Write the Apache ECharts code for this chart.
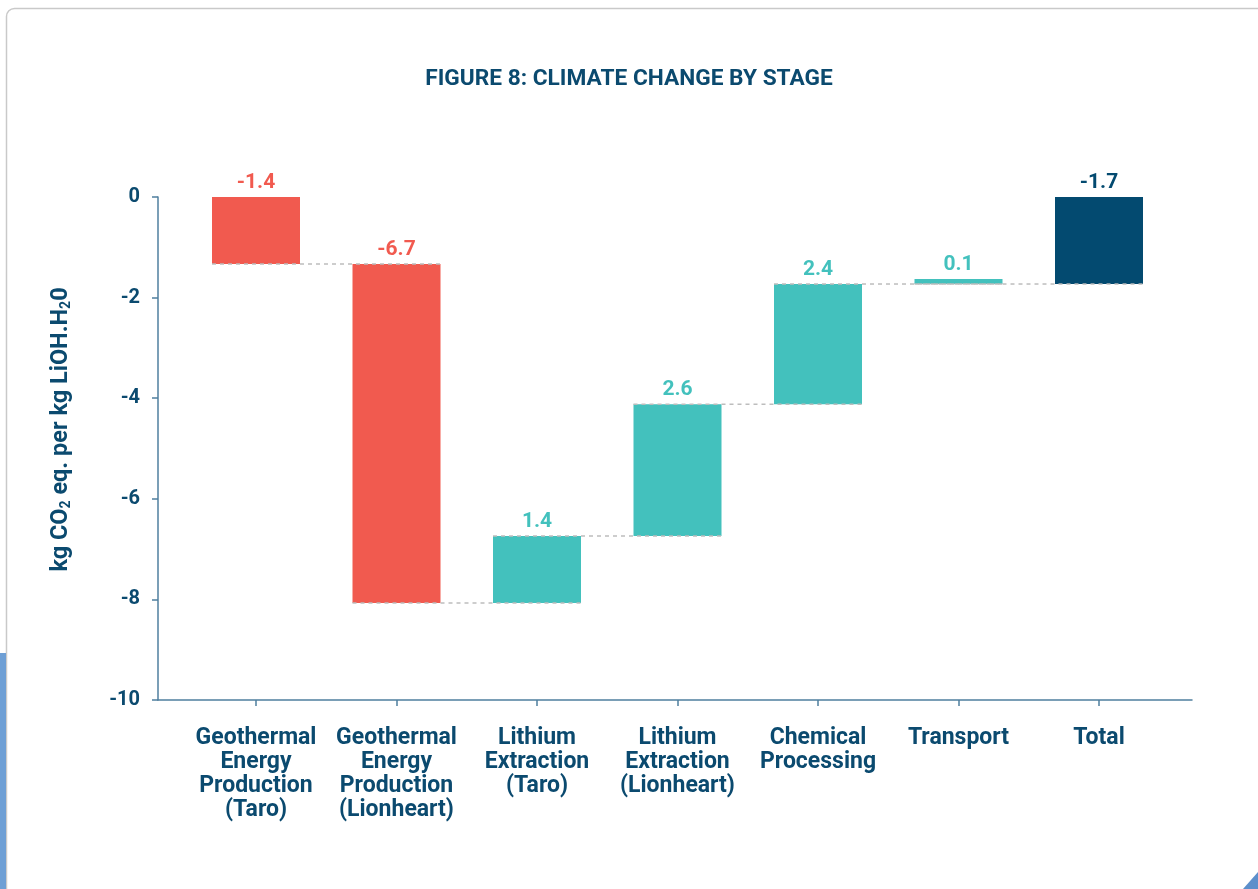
<!DOCTYPE html>
<html>
<head>
<meta charset="utf-8">
<script src="https://cdn.jsdelivr.net/npm/echarts@6/dist/echarts.min.js"></script>
<style>
html,body{margin:0;padding:0;background:#fff;}
#chart{width:1258px;height:889px;}
</style>
</head>
<body>
<div id="chart"></div>
<script>
const categories = [
  'Geothermal\nEnergy\nProduction\n(Taro)',
  'Geothermal\nEnergy\nProduction\n(Lionheart)',
  'Lithium\nExtraction\n(Taro)',
  'Lithium\nExtraction\n(Lionheart)',
  'Chemical\nProcessing',
  'Transport',
  'Total'
];
// bar heights (kg CO2 eq. per kg LiOH.H2O)
const stepValues = [-1.33, -6.74, 1.33, 2.62, 2.39, 0.10];
const totalValue = -1.73;
const valueLabels = ['-1.4', '-6.7', '1.4', '2.6', '2.4', '0.1', '-1.7'];
const yTicks = [0, -2, -4, -6, -8, -10];

const RED = '#F15A4F', TEAL = '#43C1BD', NAVY = '#034A70';
const TEXT = '#0B4A6F', AXIS = '#4F7F9F';
const FONT = 'Roboto, "Noto Sans", sans-serif';

// build waterfall ranges
const barData = [];
const connectorData = [];
let level = 0;
stepValues.forEach((v, i) => {
  const start = level, end = level + v;
  barData.push([i, start, end, v < 0 ? 0 : 1]);
  level = end;
});
barData.push([stepValues.length, 0, totalValue, 2]);
// connector level = base of the next bar
for (let i = 0; i < barData.length - 1; i++) {
  const next = barData[i + 1];
  const base = next[3] === 2 ? next[2] : next[1];
  connectorData.push([i, base]);
}
const colorsByKind = [RED, TEAL, NAVY];
const BAR_W = 88;

const chart = echarts.init(document.getElementById('chart'), null, {renderer: 'canvas'});
chart.setOption({
  animation: false,
  backgroundColor: '#fff',
  title: {
    text: 'FIGURE 8: CLIMATE CHANGE BY STAGE',
    left: 'center', top: 63,
    textStyle: {color: TEXT, fontFamily: FONT, fontWeight: 'bold', fontSize: 22.7}
  },
  graphic: [
    {type: 'rect', z: -10, shape: {x: 6.5, y: 8.5, width: 1400, height: 1000, r: 8},
     style: {fill: 'none', stroke: '#c9c9c9', lineWidth: 1.5}},
    {type: 'rect', z: -9, shape: {x: 0, y: 653, width: 6, height: 240},
     style: {fill: '#6E9FD5'}},
    {type: 'polygon', z: -9, shape: {points: [[1258, 872], [1258, 889], [1243, 889]]},
     style: {fill: '#5C8FCB'}}
  ],
  grid: [
    {left: 185.75, right: 88.75, top: 197, bottom: 189},
    {left: 158, right: 66, top: 197, bottom: 189}
  ],
  xAxis: [
    {
      type: 'category', gridIndex: 0, data: categories,
      axisLine: {show: false, onZero: false},
      axisTick: {show: true, alignWithLabel: true, length: 6, lineStyle: {color: AXIS, width: 1.5}},
      axisLabel: {color: TEXT, fontFamily: FONT, fontWeight: 'bold', fontSize: 23, lineHeight: 24, margin: 26, interval: 0},
      splitLine: {show: false}
    },
    {
      type: 'value', gridIndex: 1, min: 0, max: 1,
      axisLine: {show: true, onZero: false, lineStyle: {color: AXIS, width: 1.5}},
      axisTick: {show: false}, axisLabel: {show: false}, splitLine: {show: false}
    }
  ],
  yAxis: [
    {type: 'value', gridIndex: 0, min: -10, max: 0, show: false},
    {
      type: 'value', gridIndex: 1, min: -10, max: 0, interval: 2,
      axisLine: {show: true, onZero: false, lineStyle: {color: AXIS, width: 1.5}},
      axisTick: {show: true, length: 6, lineStyle: {color: AXIS, width: 1.5}},
      axisLabel: {color: TEXT, fontFamily: FONT, fontWeight: 'bold', fontSize: 20, margin: 18,
        formatter: v => yTicks.includes(v) ? String(v) : ''},
      splitLine: {show: false},
      name: 'kg CO{sub|2} eq. per kg LiOH.H{sub|2}0',
      nameLocation: 'middle', nameGap: 84, nameRotate: 90,
      nameTextStyle: {
        color: TEXT, fontFamily: FONT, fontWeight: 'bold', fontSize: 23.5, lineHeight: 26,
        padding: [0, 0, 0, 38],
        rich: {sub: {color: TEXT, fontFamily: FONT, fontWeight: 'bold', fontSize: 14, lineHeight: 26, padding: [11, 0, 0, 0]}}
      }
    }
  ],
  series: [
    {
      type: 'custom', xAxisIndex: 0, yAxisIndex: 0, z: 2,
      data: barData,
      renderItem: (params, api) => {
        const x = api.value(0);
        const p1 = api.coord([x, api.value(1)]);
        const p2 = api.coord([x, api.value(2)]);
        const kind = api.value(3);
        const top = Math.min(p1[1], p2[1]);
        const h = Math.abs(p1[1] - p2[1]);
        const col = colorsByKind[kind];
        return {
          type: 'rect',
          shape: {x: p1[0] - BAR_W / 2, y: top, width: BAR_W, height: h},
          style: {fill: col},
          textContent: {
            style: {text: valueLabels[params.dataIndex], fill: col,
              font: 'bold 21px ' + FONT}
          },
          textConfig: {position: 'top', distance: 4}
        };
      }
    },
    {
      type: 'custom', xAxisIndex: 0, yAxisIndex: 0, z: 3,
      data: connectorData,
      renderItem: (params, api) => {
        const i = api.value(0);
        const a = api.coord([i, api.value(1)]);
        const b = api.coord([i + 1, api.value(1)]);
        return {
          type: 'line',
          shape: {x1: a[0] - BAR_W / 2, y1: a[1], x2: b[0] + BAR_W / 2, y2: b[1]},
          style: {stroke: '#bdbdbd', lineWidth: 1.5, lineDash: [4, 4]}
        };
      }
    }
  ]
});
</script>
</body>
</html>
